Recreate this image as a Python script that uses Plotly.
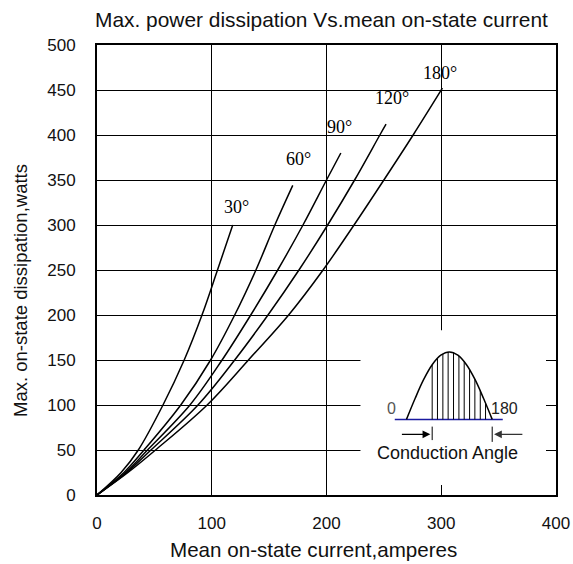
import plotly.graph_objects as go

# ---- data ----
angle_labels = ["30°", "60°", "90°", "120°", "180°"]

i_30 = [0, 21, 36, 57.5, 76, 91.5, 105, 118.3]
p_30 = [0, 25, 50, 100, 150, 200, 250, 300]

i_60 = [0, 23.5, 41, 73, 99, 120, 138.5, 155, 170.6]
p_60 = [0, 25, 50, 100, 150, 200, 250, 300, 344]

i_90 = [0, 25, 44, 81, 109, 134, 157.5, 179.5, 200, 212.5]
p_90 = [0, 25, 50, 100, 150, 200, 250, 300, 350, 380]

i_120 = [0, 26, 47, 88, 120, 149, 176, 201, 224.5, 246.5, 251.9]
p_120 = [0, 25, 50, 100, 150, 200, 250, 300, 350, 400, 412]

i_180 = [0, 27, 51, 96, 132, 167, 197, 224, 250, 275.5, 301]
p_180 = [0, 25, 50, 100, 150, 200, 250, 300, 350, 400, 452]

series_x = [i_30, i_60, i_90, i_120, i_180]
series_y = [p_30, p_60, p_90, p_120, p_180]

label_x = [121.6, 175.8, 211.5, 257, 299.3]
label_y = [320, 373, 409, 441, 468.5]

x_ticks = [0, 100, 200, 300, 400]
y_ticks = [0, 50, 100, 150, 200, 250, 300, 350, 400, 450, 500]

# inset waveform (conduction angle sketch)
wave_x = [269.7, 277.2, 284.6, 292.1, 299.6, 307.1, 314.5, 322.0, 329.5, 336.9, 344.4]
wave_y = [84, 107.2, 128.1, 144.7, 155.3, 159, 155.3, 144.7, 128.1, 107.2, 84]
hatch_x = [292.1, 296.7, 301.4, 306.0, 310.7, 315.4, 320.0, 324.7, 329.3, 334.0, 338.6]
hatch_top = [144.7, 152.0, 156.9, 158.9, 158.1, 154.4, 148.2, 139.3, 128.6, 115.9, 102.1]
base_x = [259.5, 353.6]
base_y = 84

SANS = "Liberation Sans, Arial, sans-serif"
SERIF = "Liberation Serif, Times New Roman, serif"

W, H = 573, 564
ML, MR, MT, MB = 97, 17, 45, 69
PW, PH = W - ML - MR, H - MT - MB


def px(xp):
    return (xp - ML) / PW


def py(yp):
    return (H - MB - yp) / PH


fig = go.Figure()

# white box behind the inset (hides grid lines)
fig.add_shape(type="rect", x0=229.6, x1=400, y0=0, y1=183, xref="x", yref="y",
              fillcolor="white", line=dict(width=0), layer="between")

for xs, ys in zip(series_x, series_y):
    fig.add_trace(go.Scatter(x=xs, y=ys, mode="lines",
                             line=dict(color="black", width=1.5, shape="spline", smoothing=1.0),
                             hoverinfo="skip", showlegend=False))

for t, lx, ly in zip(angle_labels, label_x, label_y):
    fig.add_annotation(x=lx, y=ly, text=t, showarrow=False, xref="x", yref="y",
                       font=dict(family=SERIF, size=18, color="black"))

# inset: baseline
fig.add_trace(go.Scatter(x=base_x, y=[base_y, base_y], mode="lines",
                         line=dict(color="#1a1aa0", width=1.5), hoverinfo="skip", showlegend=False))
# inset: waveform
fig.add_trace(go.Scatter(x=wave_x, y=wave_y, mode="lines",
                         line=dict(color="black", width=1.5, shape="spline"),
                         hoverinfo="skip", showlegend=False))
# inset: hatch
hx, hy = [], []
for xv, top in zip(hatch_x, hatch_top):
    hx += [xv, xv, None]
    hy += [base_y, top, None]
fig.add_trace(go.Scatter(x=hx, y=hy, mode="lines", line=dict(color="black", width=1),
                         hoverinfo="skip", showlegend=False))
# inset: conduction-angle ticks
fig.add_trace(go.Scatter(x=[292.1, 292.1, None, 344.4, 344.4], y=[61, 76, None, 59, 76], mode="lines",
                         line=dict(color="black", width=1), hoverinfo="skip", showlegend=False))
# arrows
fig.add_annotation(x=290.5, y=67.4, ax=264.4, ay=67.4, xref="x", yref="y", axref="x", ayref="y",
                   text="", showarrow=True, arrowhead=2, arrowsize=1.2, arrowwidth=1.3, arrowcolor="black")
fig.add_annotation(x=346.0, y=67.4, ax=372.0, ay=67.4, xref="x", yref="y", axref="x", ayref="y",
                   text="", showarrow=True, arrowhead=2, arrowsize=1.2, arrowwidth=1.3, arrowcolor="#333")
fig.add_annotation(x=256.6, y=96.3, text="0", showarrow=False, xref="x", yref="y",
                   font=dict(family=SANS, size=16, color="#555"))
fig.add_annotation(x=355.5, y=96.3, text="180", showarrow=False, xref="x", yref="y",
                   font=dict(family=SANS, size=16, color="#222"))
fig.add_annotation(x=305.1, y=46.3, text="Conduction Angle", showarrow=False, xref="x", yref="y",
                   font=dict(family=SANS, size=18, color="#111"))

# titles
fig.add_annotation(x=px(93), y=py(19), xref="paper", yref="paper",
                   text="Max. power dissipation Vs.mean on-state current",
                   showarrow=False, xanchor="left", yanchor="middle",
                   font=dict(family=SANS, size=20.9, color="#111"))
fig.add_annotation(x=px(313), y=py(549), xref="paper", yref="paper",
                   text="Mean on-state current,amperes", showarrow=False, yanchor="middle",
                   font=dict(family=SANS, size=20.6, color="#111"))
fig.add_annotation(x=px(20), y=py(291), xref="paper", yref="paper",
                   text="Max. on-state dissipation,watts", showarrow=False, textangle=-90,
                   xanchor="center", yanchor="middle", font=dict(family=SANS, size=18.5, color="#111"))

fig.update_layout(
    width=W, height=H,
    margin=dict(l=ML, r=MR, t=MT, b=MB, autoexpand=False),
    paper_bgcolor="white", plot_bgcolor="white",
    showlegend=False,
    font=dict(family=SANS, size=17, color="#111"),
)

axis_common = dict(showgrid=True, gridcolor="black", gridwidth=1.3,
                   showline=True, linecolor="black", linewidth=2, mirror="ticks",
                   ticks="inside", ticklen=10, tickwidth=1.3, tickcolor="black",
                   zeroline=False, fixedrange=True, automargin=False,
                   tickfont=dict(family=SANS, size=17, color="#111"))
fig.update_xaxes(range=[0, 400], tickvals=x_ticks, ticklabelstandoff=12, **axis_common)
fig.update_yaxes(range=[0, 500], tickvals=y_ticks, ticklabelstandoff=16, **axis_common)

fig.write_html("out.html", config={"displayModeBar": False},
               post_script="document.body.style.margin='0';document.body.style.padding='0';")
